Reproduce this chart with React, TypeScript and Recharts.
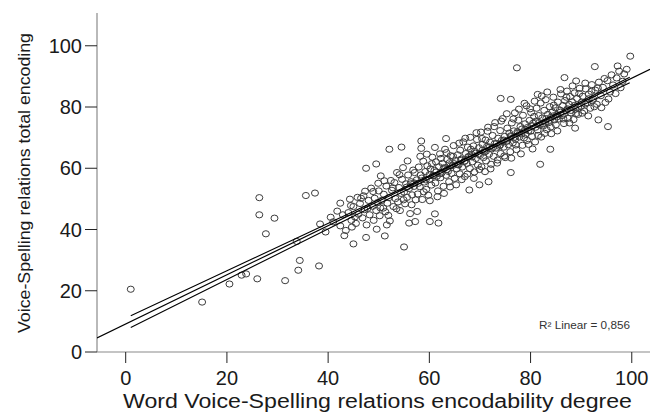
import { ScatterChart, Scatter, XAxis, YAxis } from 'recharts';

type Pt = [number, number];

const xTicks = [0, 20, 40, 60, 80, 100];
const yTicks = [0, 20, 40, 60, 80, 100];

// scattered cases at the low end of the scale
const lowCases: Pt[] = [
  [1, 20.5], [15.1, 16.3], [20.5, 22.2], [22.9, 25.1], [23.8, 25.5], [26, 23.9], [26.4, 50.4], [26.4, 44.8],
  [27.7, 38.6], [29.4, 43.7], [31.5, 23.3], [34.1, 26.7], [34.4, 29.9], [33.8, 36.1], [35.6, 51.1], [37.4, 51.9],
  [38.2, 28.1], [38.4, 41.8], [39.5, 39.2], [42.4, 48.6], [42.4, 41.2], [43.5, 39.7], [44.3, 49.9], [44.7, 40.8],
  [45, 35.3], [47.5, 60], [49.5, 61.4], [47.3, 52.5], [47.5, 37.4], [49.6, 40.1], [51.2, 37.9], [49.9, 55.1],
  [55, 34.3],
];

const upperOutliers: Pt[] = [
  [52.1, 66.2], [54.5, 66.9], [58.4, 68.9], [58.4, 66.5], [63.3, 69.7], [74.1, 82.8], [76.1, 82.5], [77.3, 92.8],
  [81.4, 84.1], [86.7, 89.6], [89, 88.5], [92.7, 93.2], [97.2, 93.4], [99.7, 96.6],
];

const lowerOutliers: Pt[] = [
  [61.1, 45.1], [60.1, 42.6], [61.8, 42.1], [56, 42.1], [57.2, 42.6], [51.6, 41.5], [67.9, 52.9], [69.9, 54.6],
  [71.7, 55.6], [76.1, 58.6], [81.9, 61.3], [83.9, 66.2], [88.8, 73.1], [93.4, 75.8], [95.3, 73.6],
];

// main cloud, read strip by strip
const cloud: Pt[] = [
  [40.5, 44], [41, 42.5], [41.8, 46], [42.9, 44.8], [43.2, 38], [44, 45.5], [44.6, 43], [45, 47.5], [45.5, 42], [45.8, 50.5],
  [46, 45], [46.3, 48.5], [46.8, 43.8], [47, 51], [47.2, 46.5], [47.6, 41.5], [48, 49.5], [48.2, 44.8], [48.5, 53.5],
  [48.8, 47.6], [49, 43], [49.2, 50.2], [49.5, 46.2], [49.8, 48.8], [50, 52.6], [50.2, 44.5], [50.4, 57.5], [50.6, 49.5],
  [50.9, 47], [51, 51.5], [51.3, 45.8], [51.5, 54.2], [51.7, 48.6], [52, 50.4], [52.2, 42.8], [52.4, 56], [52.6, 52.8],
  [52.9, 47.5], [53.1, 55.3], [53.3, 50.1], [53.6, 58.6], [53.8, 49], [54, 53.7], [54.2, 46.2], [54.4, 51.8], [54.6, 56.4],
  [54.8, 60.2], [55, 52.2], [55.2, 48.4], [55.4, 54.9], [55.6, 50.5], [55.8, 57.8], [56, 53.4], [56.2, 45.2], [56.4, 55.6],
  [56.6, 51.3], [56.8, 59.4], [57, 54.1], [57.3, 49.7],
  [57.5, 56.2], [57.7, 51.6], [57.9, 60.4], [58.1, 54], [58.3, 57.8], [58.6, 49.8], [58.8, 62.3], [59, 55.5], [59.2, 58.9],
  [59.4, 53.1], [59.6, 60.8], [59.8, 51.2], [60, 56.4], [60.2, 59.8], [60.4, 54.5], [60.6, 63.6], [60.8, 57.5],
  [61, 59.3], [61.2, 55.2], [61.3, 62.1], [61.5, 57.4], [61.7, 52.6], [61.9, 60.5], [62.1, 64.7], [62.2, 56.9], [62.4, 58.4],
  [62.6, 61.6], [62.8, 54.1], [63, 60.2], [63.1, 66.2], [63.3, 57.7], [63.5, 62.9], [63.7, 59], [63.9, 55.6], [64, 61.8],
  [64.2, 64.1], [64.4, 58.3], [64.6, 60.9], [64.8, 67.4], [65, 56.7], [65.2, 62.5], [65.4, 59.8], [65.6, 64.4],
  [65.8, 61.1], [66, 58.2], [66.1, 65.9], [66.3, 63], [66.5, 60.4], [66.7, 68.6], [66.9, 62.2], [67, 57.3], [67.2, 64.8],
  [67.4, 61.6], [67.6, 66.9], [67.8, 63.7], [68, 59.9], [68.1, 70.1], [68.3, 64.6], [68.5, 62.1], [68.7, 67.3], [68.9, 58.8],
  [69, 65.5], [69.2, 63.2], [69.4, 69.4], [69.6, 61], [69.8, 66.7], [70, 64.2], [70.2, 71.8], [70.3, 60.5], [70.5, 67.8],
  [70.7, 63.5], [70.9, 65.3], [71.1, 69.2], [71.2, 62.4], [71.4, 67.1], [71.6, 73.4], [71.8, 64.6], [72, 68.5], [72.1, 59.8],
  [72.3, 66.3], [72.5, 70.7], [72.7, 63.9], [72.9, 68], [73, 74.9], [73.2, 66.6], [73.4, 61.7], [73.6, 69.8], [73.8, 67.2],
  [74, 72.3], [74.1, 64.8], [74.3, 69.1], [74.5, 76.2], [74.7, 66.9], [74.9, 70.4], [75, 63.5], [75.2, 68.8], [75.4, 73.1],
  [75.6, 67.7], [75.8, 71.5], [76, 65.4], [76.1, 70.6], [76.3, 74.8], [76.5, 68.3], [76.7, 72.2], [76.9, 78.1], [77, 69.5],
  [77.2, 66.1], [77.4, 71.9], [77.6, 75.7], [77.8, 70.2], [78, 73.6], [78.1, 64.7], [78.3, 72.8], [78.5, 77.3], [78.7, 69.9],
  [78.9, 74.5], [79, 71.2], [79.2, 80.4], [79.4, 73.3], [79.6, 67.8], [79.8, 75.6], [80, 72.1], [80.1, 78.2], [80.3, 70.4],
  [80.5, 74.7], [80.7, 76.9], [80.9, 68.6], [81, 75.3], [81.2, 79.6], [81.4, 72.5], [81.6, 77.2], [81.8, 74.1], [82, 81.3],
  [82.1, 70.2], [82.3, 76.4], [82.5, 73.8], [82.7, 78.9], [82.9, 75.1], [83, 82.4], [83.2, 72.6], [83.4, 77.6], [83.6, 74.9],
  [83.8, 80.1], [84, 76.6], [84.1, 71.3], [84.3, 78.4], [84.5, 83.2], [84.7, 75.8], [84.9, 79.7], [85, 74.2], [85.2, 77.5],
  [85.4, 81.6], [85.6, 76.1], [85.8, 79], [86, 84.3], [86.2, 77.2], [86.4, 80.5], [86.6, 74.6], [86.8, 82.1], [87, 78.8],
  [87.2, 85.2], [87.4, 76.3], [87.6, 80.9], [87.8, 83.4], [88, 78.1], [88.2, 81.7], [88.5, 75.9], [88.7, 84.6], [88.9, 79.3],
  [89.2, 82.8], [89.4, 77.6], [89.7, 86.1], [90, 80.2], [90.3, 83.5], [90.6, 78.7], [90.9, 85.9], [91.2, 81.4], [91.5, 84.2],
  [91.8, 79.6], [92.1, 87.3], [92.4, 82.6], [92.8, 85.5], [93.1, 80.9], [93.5, 88.1], [93.9, 83.7], [94.3, 86.4], [94.8, 81.5],
  [95.2, 88.6], [95.7, 84.9], [96.3, 87.2], [97, 89.5], [97.8, 86.3], [98.5, 90.8],
];

// wider halo around the cloud
const halo: Pt[] = [
  [44.5, 47.8], [45.3, 44.1], [46.5, 50.2], [47.8, 46.9], [48.9, 52.4], [50.3, 47.1], [51.1, 55.9], [51.9, 44.6],
  [52.8, 53.6], [53.5, 46.8], [54.1, 57.9], [54.9, 49.7], [55.7, 62.4], [56.5, 48.1], [57.1, 58.6], [57.6, 45.9],
  [58.2, 63.9], [58.9, 52.3], [59.5, 64.6], [60.1, 49.4], [60.5, 61.5], [61.1, 66.8], [61.6, 50.7], [62.3, 63.2],
  [62.9, 51.8], [63.4, 65.1], [64.1, 53.9], [64.7, 63.9], [65.3, 54.6], [65.9, 68.2], [66.4, 56.3], [67.1, 69.8],
  [67.5, 58.1], [68.2, 66.2], [68.8, 56.7], [69.3, 71.6], [69.9, 59.6], [70.4, 69.7], [71, 58.9], [71.5, 72.1],
  [72.2, 61.3], [72.8, 73.6], [73.5, 62.7], [74.2, 75.4], [74.8, 64], [75.3, 77.8], [76.2, 63.3], [76.6, 76.1],
  [77.1, 67.6], [77.7, 79.3], [78.4, 67.5], [78.8, 81.2], [79.3, 69.1], [79.9, 79.4], [80.4, 66.3], [80.8, 81.9],
  [81.5, 70.7], [82.2, 83.6], [82.8, 71.4], [83.3, 84.9], [84, 73.5], [84.6, 80.6], [85.3, 72.2], [85.9, 85.7],
  [86.5, 76.1], [87.1, 83.2], [87.7, 74.8], [88.3, 86.9], [89, 77.9], [89.6, 84.4], [90.2, 78], [90.8, 87.8],
  [91.4, 77.1], [92, 85.1], [92.6, 80.1], [93.3, 86.2], [94, 79.8], [94.6, 89.3], [95.4, 82.6], [96, 90.5],
  [96.8, 84.4], [97.5, 91.7], [98.2, 88.4], [99, 92.3],
];

// the dark core right along the fit line
const core: Pt[] = [
  [55.5, 53.8], [56.3, 54.9], [57, 55.2], [57.8, 55.1], [58.5, 56.8], [59.3, 56.2], [60, 57.9], [60.7, 57.6], [61.4, 58.8],
  [62.1, 58.2], [62.8, 59.9], [63.5, 59.6], [64.2, 60.8], [64.9, 61.5], [65.6, 61.2], [66.3, 62.6], [67, 62.4], [67.7, 63.8],
  [68.4, 63.7], [69.1, 64.9], [69.8, 64.6], [70.5, 65.9], [71.2, 65.6], [71.9, 66.9], [72.6, 66.8], [73.3, 68.1], [74, 67.6],
  [74.7, 69.2], [75.4, 68.9], [76.1, 70.3], [76.8, 70.1], [77.5, 71.5], [78.2, 71.2], [78.9, 72.6], [79.6, 72.3], [80.3, 73.9],
  [81, 73.4], [81.7, 74.9], [82.4, 74.5], [83.1, 76.2], [83.8, 75.7], [84.5, 77.1], [85.2, 76.8], [85.9, 78.3], [86.6, 77.7],
  [87.3, 79.4], [88, 78.9], [88.7, 80.5], [89.4, 80], [90.1, 81.6], [90.8, 81], [91.5, 82.7], [92.2, 82.1],
];

const fitLine: Pt[] = [[-5.67, 4.6], [103.6, 92.3]];
const upperBand: Pt[] = [[1, 11.8], [20, 26.5], [45, 45.9], [70, 65.5], [99.6, 89.7]];
const lowerBand: Pt[] = [[1, 8.0], [20, 23.7], [45, 44.3], [70, 64.7], [99.6, 87.9]];

const toData = (pts: Pt[]) => pts.map(([x, y]) => ({ x, y }));
const allCases = toData([...lowCases, ...cloud, ...halo, ...core, ...upperOutliers, ...lowerOutliers]);

const FONT = '"Liberation Sans", Arial, sans-serif';

const OpenCircle = (props: any) => {
  const { cx, cy } = props;
  if (cx == null || cy == null) return <g />;
  return <ellipse cx={cx} cy={cy} rx={3.5} ry={3.1} fill="none" stroke="#3c3c3c" strokeWidth={1} />;
};

const NoDot = () => <g />;

export default function App() {
  return (
    <div style={{ position: 'absolute', left: 0, top: 0, width: 650, height: 412, background: '#fff' }}>
      <ScatterChart width={650} height={412} margin={{ top: 13, right: 0, bottom: 0, left: 0 }}>
        <XAxis
          dataKey="x"
          type="number"
          domain={[-5.67, 103.6]}
          ticks={xTicks}
          allowDataOverflow
          height={60}
          tickSize={11}
          tickMargin={8}
          axisLine={{ stroke: '#8a8a8a', strokeWidth: 1.2 }}
          tickLine={{ stroke: '#222' }}
          tick={{ fill: '#1a1a1a', fontSize: 20, fontFamily: FONT }}
        />
        <YAxis
          dataKey="y"
          type="number"
          domain={[0, 110.7]}
          ticks={yTicks}
          allowDataOverflow
          width={97}
          tickSize={12}
          tickMargin={3}
          axisLine={{ stroke: '#8a8a8a', strokeWidth: 1.2 }}
          tickLine={{ stroke: '#222' }}
          tick={{ fill: '#1a1a1a', fontSize: 20, fontFamily: FONT }}
        />
        <Scatter data={allCases} shape={OpenCircle} isAnimationActive={false} />
        <Scatter data={toData(upperBand)} line={{ stroke: '#000', strokeWidth: 1.1 }} shape={NoDot} isAnimationActive={false} />
        <Scatter data={toData(lowerBand)} line={{ stroke: '#000', strokeWidth: 1.1 }} shape={NoDot} isAnimationActive={false} />
        <Scatter data={toData(fitLine)} line={{ stroke: '#000', strokeWidth: 1.2 }} shape={NoDot} isAnimationActive={false} />
      </ScatterChart>
      <svg width={650} height={412} style={{ position: 'absolute', left: 0, top: 0, pointerEvents: 'none' }}>
        <text
          x={30}
          y={183}
          transform="rotate(-90, 30, 183)"
          textAnchor="middle"
          fontFamily={FONT}
          fontSize={16}
          fill="#1a1a1a"
          textLength={300}
          lengthAdjust="spacingAndGlyphs"
        >
          Voice-Spelling relations total encoding
        </text>
        <text
          x={377.5}
          y={407.5}
          textAnchor="middle"
          fontFamily={FONT}
          fontSize={20}
          fill="#1a1a1a"
          textLength={509}
          lengthAdjust="spacingAndGlyphs"
        >
          Word Voice-Spelling relations encodability degree
        </text>
        <text x={539} y={328.5} fontFamily={FONT} fontSize={10} fill="#333" textLength={91} lengthAdjust="spacingAndGlyphs">
          R² Linear = 0,856
        </text>
      </svg>
    </div>
  );
}
